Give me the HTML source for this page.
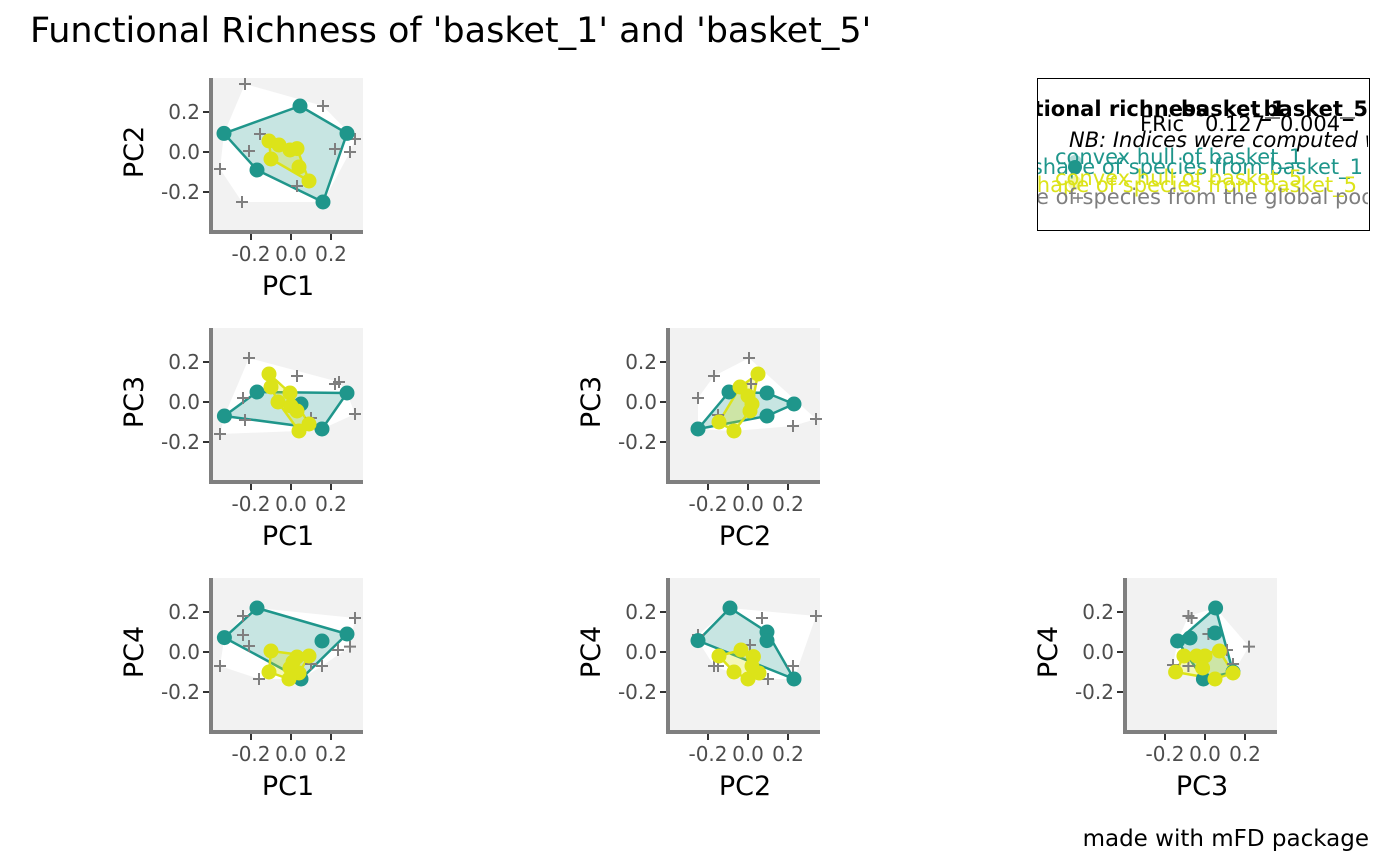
<!DOCTYPE html>
<html><head><meta charset="utf-8"><style>
html,body{margin:0;padding:0;background:#fff;}
svg{display:block;font-family:"DejaVu Sans","Liberation Sans",sans-serif;}
</style></head><body>
<svg id="chart" width="1400" height="866" viewBox="0 0 1400 866" xmlns="http://www.w3.org/2000/svg">
<text x="30" y="42" font-size="35" fill="#000">Functional Richness of 'basket_1' and 'basket_5'</text>
<g id="panels"></g>
<g>
<defs><clipPath id="lc"><rect x="1038" y="79" width="330" height="150"/></clipPath></defs>
<rect x="1037.5" y="78.5" width="332" height="152" fill="#fff" stroke="#000" stroke-width="1"/>
<g clip-path="url(#lc)" font-size="21">
<text x="1208" y="116" text-anchor="end" font-weight="bold">Functional richness</text>
<text x="1181" y="116" font-weight="bold">basket_1</text>
<text x="1368" y="116" text-anchor="end" font-weight="bold">basket_5</text>
<text x="1140" y="131">FRic</text>
<text x="1205" y="131">0.127</text>
<text x="1280" y="131">0.004</text>
<line x1="1265" y1="118" x2="1280" y2="118" stroke="#000"/><line x1="1340" y1="118" x2="1355" y2="118" stroke="#000"/>
<text x="1069" y="147" font-style="italic">NB: Indices were computed with respect to the global pool</text>
<circle cx="1075" cy="162" r="7" fill="#1F968B" opacity="0.35"/>
<circle cx="1075" cy="167" r="7" fill="#1F968B"/>
<text x="1055" y="164" fill="#1F968B">convex hull of basket_1</text>
<text x="1363" y="174" text-anchor="end" fill="#1F968B">shape of species from basket_1</text>
<circle cx="1075" cy="183" r="7" fill="#DCE319" opacity="0.35"/>
<text x="1055" y="185" fill="#DCE319">convex hull of basket_5</text>
<text x="1357" y="192" text-anchor="end" fill="#DCE319">shape of species from basket_5</text>
<text x="1036" y="204" fill="#7F7F7F">e of species from the global pool</text>
<path d="M1073 198h10M1078 193v10" stroke="#7F7F7F" stroke-width="1.5"/>
</g></g>
<text x="1369" y="846" text-anchor="end" font-size="23" fill="#000">made with mFD package</text>
</svg>
<script>
// per-panel data: [x,y] values in PC space
const panelAxes = [["PC1","PC2"],["PC1","PC3"],["PC2","PC3"],["PC1","PC4"],["PC2","PC4"],["PC3","PC4"]];
const globalPts1 = [[-0.23,0.34],[0.16,0.23],[-0.155,0.09],[-0.21,0.005],[-0.355,-0.085],[-0.245,-0.25],[0.03,-0.17],[0.22,0.015],[0.295,0],[0.32,0.065]];
const basket1Pts1 = [[-0.335,0.093],[0.045,0.23],[0.28,0.093],[0.16,-0.25],[-0.17,-0.09]];
const basket5Pts1 = [[-0.11,0.055],[-0.06,0.035],[-0.005,0.01],[0.03,0.017],[-0.1,-0.035],[0.04,-0.075],[0.09,-0.145]];
const globalPts2 = [[-0.21,0.22],[0.03,0.13],[0.22,0.09],[0.24,0.1],[0.32,-0.06],[-0.24,0.02],[-0.23,-0.09],[-0.355,-0.16],[0.1,-0.08]];
const basket1Pts2 = [[-0.333,-0.07],[-0.17,0.05],[0.28,0.045],[0.155,-0.135],[0.05,-0.01]];
const basket5Pts2 = [[-0.11,0.14],[-0.1,0.075],[-0.005,0.045],[-0.065,0],[0,-0.02],[0.03,-0.045],[0.09,-0.11],[0.04,-0.145]];
const globalPts3 = [[0.005,0.22],[-0.17,0.13],[-0.25,0.02],[0.225,-0.12],[0.34,-0.085],[0.015,0.09],[-0.15,-0.065]];
const basket1Pts3 = [[-0.25,-0.135],[-0.095,0.05],[0.095,0.045],[0.23,-0.01],[0.095,-0.07]];
const basket5Pts3 = [[0.05,0.14],[-0.04,0.075],[0,0.03],[0.02,-0.01],[0.01,-0.045],[-0.145,-0.1],[-0.07,-0.145]];
const globalPts4 = [[-0.24,0.18],[-0.24,0.085],[-0.21,0.03],[-0.355,-0.07],[-0.16,-0.135],[0.32,0.17],[0.235,0.01],[0.295,0.027],[0.155,-0.07],[0.1,-0.06]];
const basket1Pts4 = [[-0.333,0.072],[-0.17,0.22],[0.28,0.09],[0.155,0.055],[0.05,-0.135]];
const basket5Pts4 = [[-0.1,0.005],[-0.11,-0.1],[0.03,-0.025],[0.09,-0.02],[-0.005,-0.08],[0.04,-0.105],[-0.01,-0.135],[0.01,-0.05]];
const globalPts5 = [[-0.25,0.085],[0.07,0.17],[0.34,0.18],[0.225,-0.07],[0.1,-0.135],[-0.17,-0.07],[-0.15,-0.07],[0.01,0.035]];
const basket1Pts5 = [[-0.25,0.057],[-0.09,0.22],[0.095,0.1],[0.095,0.057],[0.23,-0.135]];
const basket5Pts5 = [[-0.145,-0.02],[-0.035,0.01],[0.027,-0.023],[-0.07,-0.1],[0,-0.135],[0.055,-0.105],[0.02,-0.07]];
const globalPts6 = [[-0.083,0.18],[-0.067,0.17],[0.22,0.027],[-0.16,-0.065],[-0.083,-0.07],[0.017,0.09],[0.14,-0.06],[0.11,0.01]];
const basket1Pts6 = [[0.053,0.22],[-0.137,0.055],[-0.075,0.07],[0.05,0.095],[-0.008,-0.135],[0.14,-0.1]];
const basket5Pts6 = [[-0.147,-0.1],[-0.105,-0.02],[-0.042,-0.02],[0,-0.02],[-0.012,-0.08],[0.072,0.005],[0.05,-0.135],[0.14,-0.105]];
const tickValues = [-0.2, 0, 0.2];
const tickLabels = ["-0.2", "0.0", "0.2"];

const globals=[globalPts1,globalPts2,globalPts3,globalPts4,globalPts5,globalPts6];
const b1s=[basket1Pts1,basket1Pts2,basket1Pts3,basket1Pts4,basket1Pts5,basket1Pts6];
const b5s=[basket5Pts1,basket5Pts2,basket5Pts3,basket5Pts4,basket5Pts5,basket5Pts6];
const cells=[[0,0],[1,0],[1,1],[2,0],[2,1],[2,2]];
const NS="http://www.w3.org/2000/svg";
const root=document.getElementById('panels');
function mk(tag,attrs,parent){const e=document.createElementNS(NS,tag);for(const k in attrs)e.setAttribute(k,attrs[k]);(parent||root).appendChild(e);return e;}
function hull(pts){const p=pts.slice().sort((a,b)=>a[0]-b[0]||a[1]-b[1]);if(p.length<3)return p;const cr=(o,a,b)=>(a[0]-o[0])*(b[1]-o[1])-(a[1]-o[1])*(b[0]-o[0]);const lo=[],up=[];for(const q of p){while(lo.length>=2&&cr(lo[lo.length-2],lo[lo.length-1],q)<=0)lo.pop();lo.push(q);}for(let i=p.length-1;i>=0;i--){const q=p[i];while(up.length>=2&&cr(up[up.length-2],up[up.length-1],q)<=0)up.pop();up.push(q);}up.pop();lo.pop();return lo.concat(up);}
const XMIN=-0.39,XMAX=0.36,YMIN=-0.39,YMAX=0.37,SC=200;
cells.forEach((c,i)=>{
  const [row,col]=c;
  const x0=291+col*457, y0=152+row*250;
  const sx=v=>x0+v*SC, sy=v=>y0-v*SC;
  const g=mk('g',{});
  
  
  const L=sx(XMIN),R=sx(XMAX),T=sy(YMAX),B=sy(YMIN);
  const bg=mk('rect',{x:L,y:T,width:R-L,height:B-T,fill:'#F2F2F2'},g);
  
  
  const all=globals[i].concat(b1s[i],b5s[i]);
  const poly=(pts,fill,stroke,name)=>{const h=hull(pts);const e=mk('polygon',{points:h.map(p=>sx(p[0])+','+sy(p[1])).join(' '),fill:fill,stroke:stroke,'stroke-width':stroke==='none'?0:2.5,'stroke-linejoin':'round'},g);};
  poly(all,'#FFFFFF','none','global-pool-hull');
  poly(b1s[i],'rgba(31,150,139,0.25)','#1F968B','basket-1-hull');
  poly(b5s[i],'rgba(220,227,25,0.3)','#DCE319','basket-5-hull');
  globals[i].forEach(p=>{const e=mk('path',{d:`M${sx(p[0])-6} ${sy(p[1])}h12M${sx(p[0])} ${sy(p[1])-6}v12`,stroke:'#7F7F7F','stroke-width':2},g);
    
    });
  b1s[i].forEach(p=>{const e=mk('circle',{cx:sx(p[0]),cy:sy(p[1]),r:7.5,fill:'#1F968B'},g);
    
    });
  b5s[i].forEach(p=>{const e=mk('circle',{cx:sx(p[0]),cy:sy(p[1]),r:7.5,fill:'#DCE319'},g);
    
    });
  mk('line',{x1:L-2,y1:T,x2:L-2,y2:B+4,stroke:'#7F7F7F','stroke-width':4},g);
  mk('line',{x1:L-4,y1:B+2,x2:R,y2:B+2,stroke:'#7F7F7F','stroke-width':4},g);
  tickValues.forEach((v,k)=>{
    mk('line',{x1:L-10,y1:sy(v),x2:L-4,y2:sy(v),stroke:'#333','stroke-width':2},g);
    mk('line',{x1:sx(v),y1:B+4,x2:sx(v),y2:B+10,stroke:'#333','stroke-width':2},g);
    const yt=mk('text',{x:L-13,y:sy(v)+7,'text-anchor':'end','font-size':20,fill:'#4D4D4D'},g);yt.textContent=tickLabels[k];
    
    
    const xt=mk('text',{x:sx(v),y:B+31,'text-anchor':'middle','font-size':20,fill:'#4D4D4D'},g);xt.textContent=tickLabels[k];
    
    
  });
  const xa=mk('text',{x:(L+R)/2,y:B+65,'text-anchor':'middle','font-size':27,fill:'#000'},g);xa.textContent=panelAxes[i][0];
  
  
  const ya=mk('text',{x:0,y:0,'text-anchor':'middle','font-size':27,fill:'#000',transform:`translate(${L-70},${y0}) rotate(-90)`},g);ya.textContent=panelAxes[i][1];
  
  
});
</script>
</body></html>
